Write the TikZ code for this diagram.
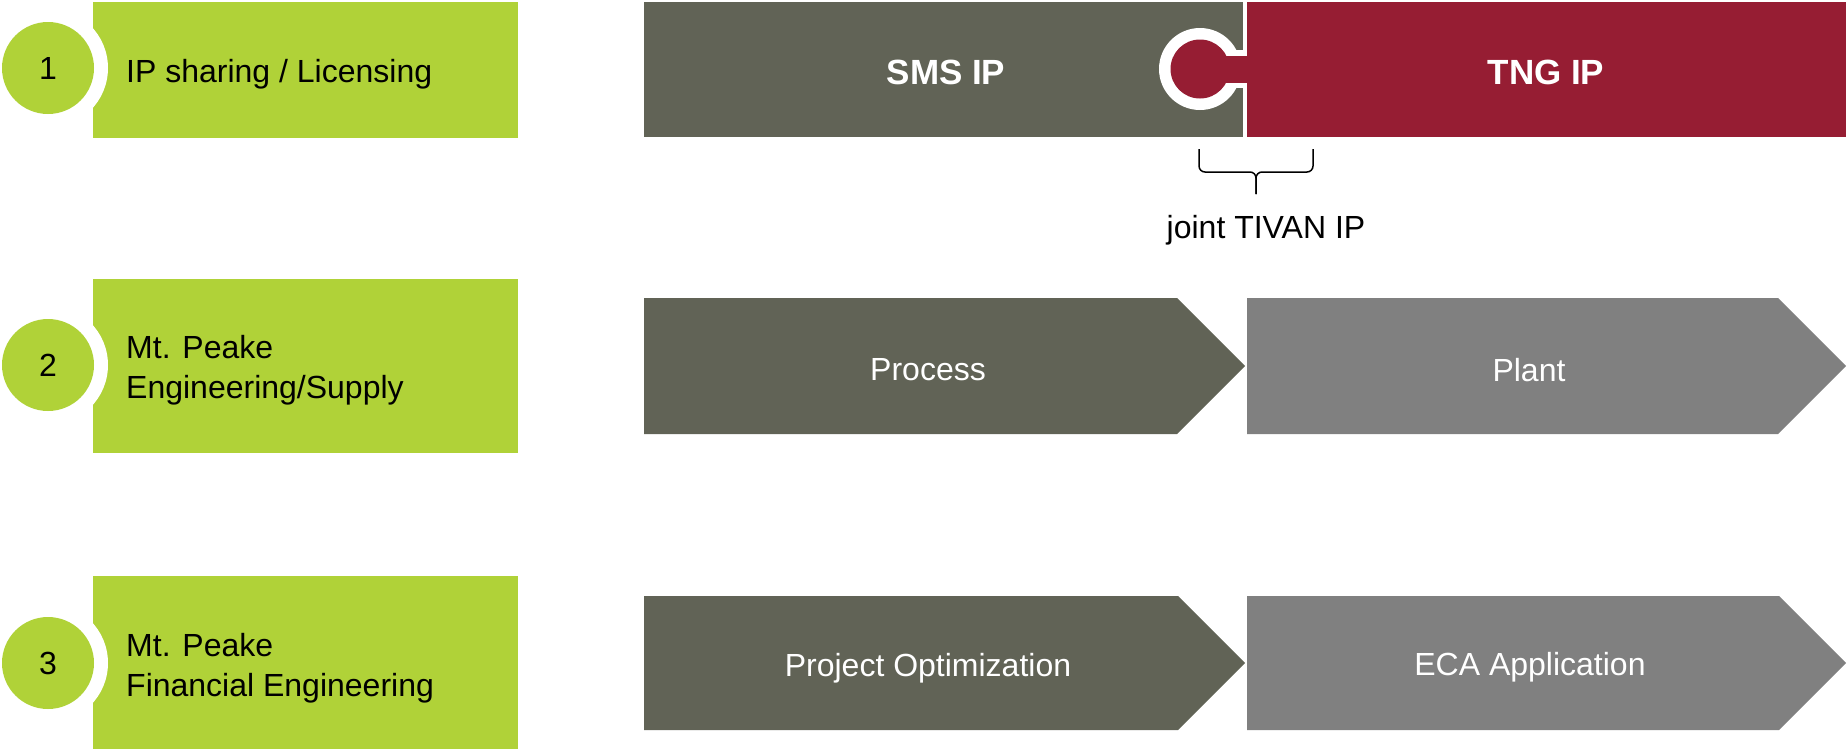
\documentclass[tikz,border=0pt]{standalone}
\usepackage{fontspec}
\setmainfont{Liberation Sans}
\definecolor{limeg}{RGB}{176,210,56}
\definecolor{darkg}{RGB}{97,99,86}
\definecolor{wine}{RGB}{150,29,51}
\definecolor{midg}{RGB}{128,128,128}
\begin{document}
\begin{tikzpicture}[x=1pt,y=-1pt,
  txt/.style={inner sep=0pt,font=\fontsize{32}{40}\selectfont},
  wtxt/.style={txt,text=white},
  btxt/.style={inner sep=0pt,text=white,font=\fontsize{35}{42}\selectfont\bfseries},
  numcircle/.style={circle,fill=limeg,minimum size=92pt,inner sep=0pt,font=\fontsize{32}{39}\selectfont}]
\useasboundingbox (0,0) rectangle (1847,750);
% ---- left green labels
\foreach \ya/\yb/\yc in {2/138/68, 279/453/365, 576/749/663}{
  \fill[limeg] (93,\ya) rectangle (518,\yb);
  \fill[white] (48,\yc) circle[radius=60pt];
}
\node[numcircle] (c1) at (48,68) {1};
\node[numcircle] (c2) at (48,365) {2};
\node[numcircle] (c3) at (48,663) {3};
\node[txt,anchor=west] (l1) at (126,74) {IP sharing / Licensing};
\node[txt,anchor=west,align=left] (l2) at (126,370) {Mt. Peake\\Engineering/Supply};
\node[txt,anchor=west,align=left] (l3) at (126,668) {Mt. Peake\\Financial Engineering};
% ---- row 1 puzzle
\fill[darkg] (644,2) rectangle (1243,137);
\fill[wine] (1247,2) rectangle (1846,137);
\fill[white] (1200,69) circle[radius=41pt];
\fill[white] (1215,50) rectangle (1247,88);
\fill[wine] (1200,69) circle[radius=29.5pt];
\fill[wine] (1215,55.5) rectangle (1250,82.5);
\node[btxt] (sms) at (946,72) {SMS IP};
\node[btxt] (tng) at (1546,72) {TNG IP};
% brace
\coordinate (bl) at (1199,149);
\coordinate (br) at (1313,149);
\coordinate (bt) at (1256,194);
\draw[line width=1.5pt,rounded corners=6pt] (bl) -- (1199,172) -- (1256,172) -- (bt);
\draw[line width=1.5pt,rounded corners=6pt] (br) -- (1313,172) -- (1256,172) -- (bt);
\node[txt] (joint) at (1266,230) {joint TIVAN IP};
% ---- row 2 chevrons
\fill[darkg] (644,298) -- (1177,298) -- (1245,366) -- (1177,434) -- (644,434) -- cycle;
\fill[midg] (1247,298) -- (1778,298) -- (1846,366) -- (1778,434) -- (1247,434) -- cycle;
\node[wtxt] (proc) at (928,370) {Process};
\node[wtxt] (plant) at (1529,370) {Plant};
% ---- row 3 chevrons
\fill[darkg] (644,596) -- (1178,596) -- (1245,663) -- (1178,730) -- (644,730) -- cycle;
\fill[midg] (1247,596) -- (1779,596) -- (1846,663) -- (1779,730) -- (1247,730) -- cycle;
\node[wtxt] (opt) at (928,668) {Project Optimization};
\node[wtxt] (eca) at (1530,667) {ECA Application};
\end{tikzpicture}
\end{document}
